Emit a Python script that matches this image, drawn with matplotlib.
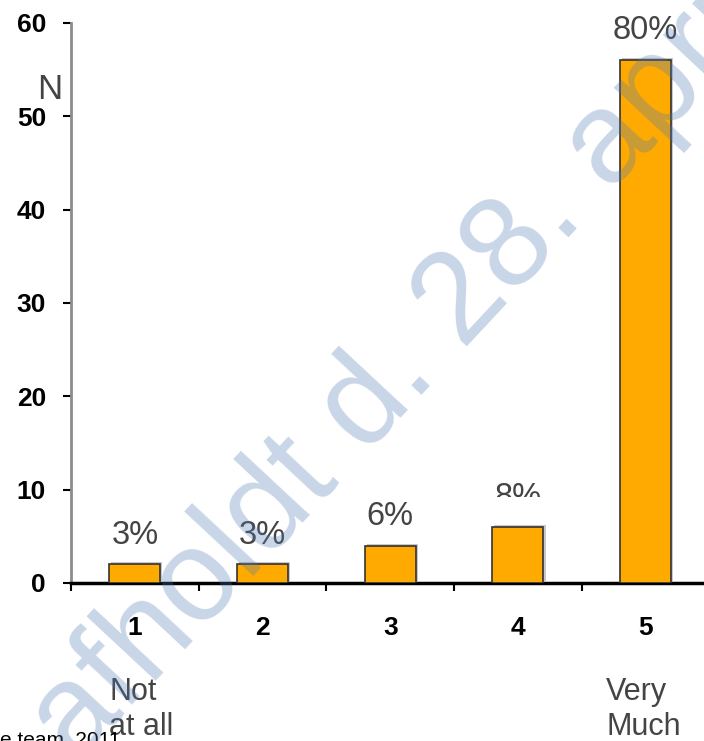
import matplotlib
matplotlib.use("Agg")
import matplotlib.pyplot as plt
import matplotlib.patheffects as pe
from matplotlib.transforms import Bbox, TransformedBbox

plt.rcParams['font.family'] = ['Liberation Sans', 'DejaVu Sans']

# Ratings 1..5 and number of respondents per rating
categories = ["1", "2", "3", "4", "5"]
counts = [2, 2, 4, 6, 56]
pct_labels = ["3%", "3%", "6%", "8%", "80%"]
y_ticks = [0, 10, 20, 30, 40, 50, 60]
low_label = "Not\nat all"
high_label = "Very\nMuch"
y_label = "N"
watermark = "afholdt d. 28. april"
footer = "e team, 2011"

W, H = 704, 741
fig = plt.figure(figsize=(W / 100, H / 100), dpi=100)
ax = fig.add_axes([71 / W, 1 - 583 / H, 638.5 / W, 560 / H])

xpos = list(range(1, len(categories) + 1))
bars = ax.bar(xpos, counts, width=0.4, color="#FFAA00", edgecolor="#333333",
              linewidth=1.2, zorder=3)
for b in bars:
    b.set_path_effects([pe.SimplePatchShadow(offset=(1.5, 1.5),
                                             shadow_rgbFace="#c8c8c8", alpha=1.0),
                        pe.Normal()])

ax.set_xlim(0.5, 5.5)
ax.set_ylim(0, 60)

# spines
for s in ("top", "right"):
    ax.spines[s].set_visible(False)
ax.spines["left"].set_color("#8c8c8c")
ax.spines["left"].set_linewidth(2)
ax.spines["bottom"].set_color("black")
ax.spines["bottom"].set_linewidth(2.5)

# y axis
ax.set_yticks(y_ticks)
ax.set_yticklabels([str(v) for v in y_ticks], fontsize=19, fontweight="bold")
ax.tick_params(axis="y", direction="out", length=6, width=1.5, color="black", pad=12)

# x axis: labels under bars, tick marks at category boundaries
ax.set_xticks(xpos)
ax.set_xticklabels(categories, fontsize=19, fontweight="bold")
ax.tick_params(axis="x", which="major", length=0, pad=24)
ax.set_xticks([x + 0.5 for x in [0] + xpos[:-1]], minor=True)
ax.tick_params(axis="x", which="minor", direction="out", length=6, width=1.5,
               color="black")

# percentage labels above bars
clip = TransformedBbox(Bbox([[0, 1 - 497 / H], [1, 1]]), fig.transFigure)
for x, v, lab in zip(xpos, counts, pct_labels):
    t = ax.annotate(lab, (x, v), xytext=(0, 15), textcoords="offset points",
                    ha="center", va="baseline", fontsize=23.5, color="#444444",
                    annotation_clip=False)
    if lab == "8%":
        t.set_clip_box(clip)
        t.set_clip_on(True)

# scale end descriptions
ax.text(0.8, -0.271, low_label, transform=ax.get_xaxis_transform(),
        ha="left", va="baseline", fontsize=22, color="#444444")
ax.text(4.69, -0.271, high_label, transform=ax.get_xaxis_transform(),
        ha="left", va="baseline", fontsize=22, color="#444444")

# y label
fig.text(50 / W, 1 - 99 / H, y_label, ha="center", va="baseline",
         fontsize=25, color="#444444")

# footer
fig.text(0, 1 - 746 / H, footer, ha="left", va="baseline", fontsize=15,
         color="black")

# watermark
fig.text(426 / W, 1 - 390 / H, watermark, rotation=47, rotation_mode="anchor",
         ha="center", va="baseline", fontsize=93, color="#4b79b4", alpha=0.31,
         zorder=10)

fig.savefig("out.png", dpi=100)
